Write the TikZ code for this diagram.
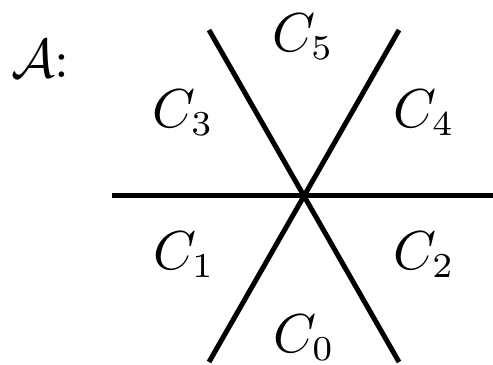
\documentclass[tikz,border=0pt]{standalone}
\begin{document}
\begin{tikzpicture}[x=0.2pt,y=-0.2pt,
  lbl/.style={inner sep=0pt,anchor=base,font=\fontsize{10.6}{12}\selectfont},
  ln/.style={line width=1pt}]
\useasboundingbox (0,0) rectangle (493,364);
\coordinate (O) at (303,195);
\coordinate (h1) at (112,195);
\coordinate (h2) at (493,195);
\coordinate (a1) at (209,30);
\coordinate (a2) at (399,362);
\coordinate (b1) at (399,30);
\coordinate (b2) at (209,362);
\draw[ln] (h1) -- (h2);
\draw[ln] (a1) -- (a2);
\draw[ln] (b1) -- (b2);
\node[lbl,anchor=base west] (A) at (10,77) {$\mathcal{A}$:};
\node[lbl] (c5) at (303,51) {$C_5$};
\node[lbl] (c3) at (183,127) {$C_3$};
\node[lbl] (c4) at (424,127) {$C_4$};
\node[lbl] (c1) at (184,269) {$C_1$};
\node[lbl] (c2) at (424,269) {$C_2$};
\node[lbl] (c0) at (304,352) {$C_0$};
\end{tikzpicture}
\end{document}
